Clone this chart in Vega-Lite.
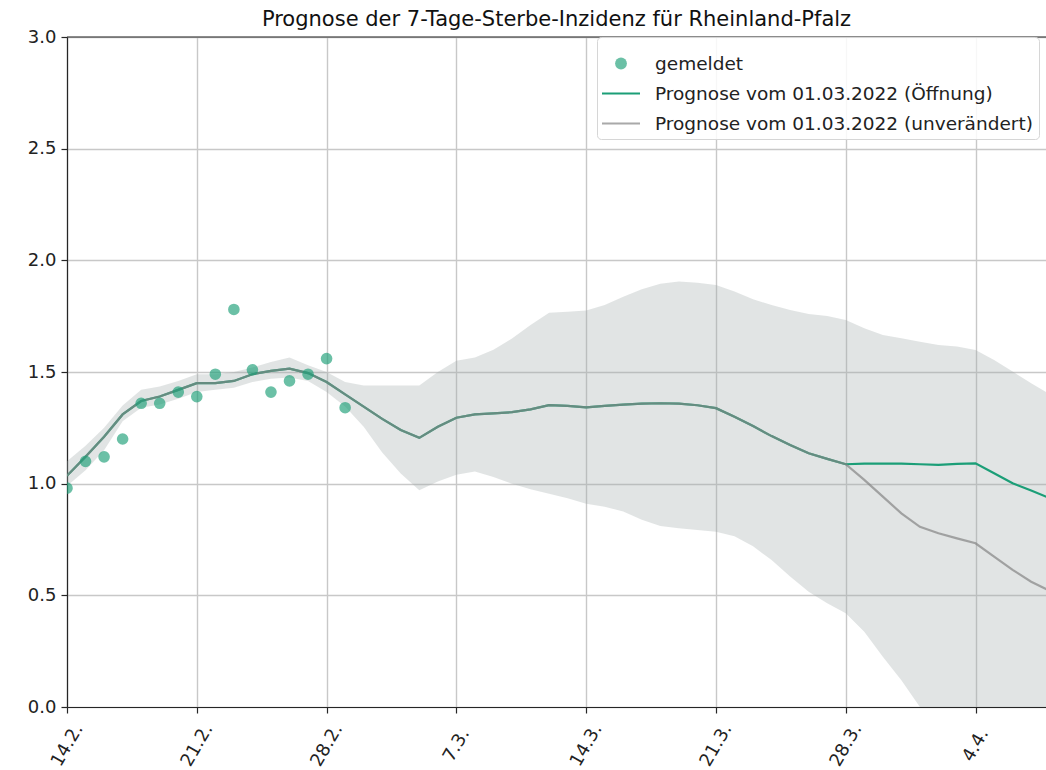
{
  "$schema": "https://vega.github.io/schema/vega-lite/v6.json",
  "width": 979,
  "height": 670,
  "autosize": {"type": "none"},
  "padding": {"left": 67, "top": 37, "right": 0, "bottom": 63},
  "background": "white",
  "config": {
    "font": "DejaVu Sans",
    "view": {"stroke": null},
    "axis": {
      "labelFont": "DejaVu Sans",
      "labelFontSize": 18,
      "labelColor": "#222222",
      "domainColor": "#262626",
      "domainWidth": 1.2,
      "tickColor": "#262626",
      "tickWidth": 1.2,
      "tickSize": 6,
      "gridColor": "#c8c8c8",
      "gridWidth": 1.4,
      "title": null
    }
  },
  "title": {
    "text": "Prognose der 7-Tage-Sterbe-Inzidenz für Rheinland-Pfalz",
    "font": "DejaVu Sans",
    "fontSize": 21,
    "fontWeight": "normal",
    "color": "#111111",
    "anchor": "middle",
    "frame": "group",
    "offset": -2
  },
  "data": {
    "values": [
      {"date": "2022-02-14T00:00:00", "obs": 0.98, "lo": 0.99, "hi": 1.10, "open": 1.035, "unch": 1.035},
      {"date": "2022-02-15T00:00:00", "obs": 1.10, "lo": 1.06, "hi": 1.17, "open": 1.12, "unch": 1.12},
      {"date": "2022-02-16T00:00:00", "obs": 1.12, "lo": 1.15, "hi": 1.25, "open": 1.21, "unch": 1.21},
      {"date": "2022-02-17T00:00:00", "obs": 1.20, "lo": 1.28, "hi": 1.35, "open": 1.31, "unch": 1.31},
      {"date": "2022-02-18T00:00:00", "obs": 1.36, "lo": 1.34, "hi": 1.42, "open": 1.37, "unch": 1.37},
      {"date": "2022-02-19T00:00:00", "obs": 1.36, "lo": 1.355, "hi": 1.435, "open": 1.39, "unch": 1.39},
      {"date": "2022-02-20T00:00:00", "obs": 1.41, "lo": 1.38, "hi": 1.46, "open": 1.42, "unch": 1.42},
      {"date": "2022-02-21T00:00:00", "obs": 1.39, "lo": 1.41, "hi": 1.49, "open": 1.45, "unch": 1.45},
      {"date": "2022-02-22T00:00:00", "obs": 1.49, "lo": 1.42, "hi": 1.49, "open": 1.45, "unch": 1.45},
      {"date": "2022-02-23T00:00:00", "obs": 1.78, "lo": 1.43, "hi": 1.50, "open": 1.46, "unch": 1.46},
      {"date": "2022-02-24T00:00:00", "obs": 1.51, "lo": 1.455, "hi": 1.52, "open": 1.49, "unch": 1.49},
      {"date": "2022-02-25T00:00:00", "obs": 1.41, "lo": 1.47, "hi": 1.545, "open": 1.505, "unch": 1.505},
      {"date": "2022-02-26T00:00:00", "obs": 1.46, "lo": 1.475, "hi": 1.565, "open": 1.515, "unch": 1.515},
      {"date": "2022-02-27T00:00:00", "obs": 1.49, "lo": 1.46, "hi": 1.53, "open": 1.495, "unch": 1.495},
      {"date": "2022-02-28T00:00:00", "obs": 1.56, "lo": 1.41, "hi": 1.50, "open": 1.455, "unch": 1.455},
      {"date": "2022-03-01T00:00:00", "obs": 1.34, "lo": 1.345, "hi": 1.455, "open": 1.40, "unch": 1.40},
      {"date": "2022-03-02T00:00:00", "obs": null, "lo": 1.255, "hi": 1.44, "open": 1.345, "unch": 1.345},
      {"date": "2022-03-03T00:00:00", "obs": null, "lo": 1.14, "hi": 1.44, "open": 1.29, "unch": 1.29},
      {"date": "2022-03-04T00:00:00", "obs": null, "lo": 1.045, "hi": 1.44, "open": 1.24, "unch": 1.24},
      {"date": "2022-03-05T00:00:00", "obs": null, "lo": 0.97, "hi": 1.44, "open": 1.205, "unch": 1.205},
      {"date": "2022-03-06T00:00:00", "obs": null, "lo": 1.01, "hi": 1.50, "open": 1.255, "unch": 1.255},
      {"date": "2022-03-07T00:00:00", "obs": null, "lo": 1.04, "hi": 1.55, "open": 1.295, "unch": 1.295},
      {"date": "2022-03-08T00:00:00", "obs": null, "lo": 1.055, "hi": 1.565, "open": 1.31, "unch": 1.31},
      {"date": "2022-03-09T00:00:00", "obs": null, "lo": 1.03, "hi": 1.60, "open": 1.315, "unch": 1.315},
      {"date": "2022-03-10T00:00:00", "obs": null, "lo": 1.00, "hi": 1.65, "open": 1.32, "unch": 1.32},
      {"date": "2022-03-11T00:00:00", "obs": null, "lo": 0.975, "hi": 1.71, "open": 1.333, "unch": 1.333},
      {"date": "2022-03-12T00:00:00", "obs": null, "lo": 0.955, "hi": 1.765, "open": 1.352, "unch": 1.352},
      {"date": "2022-03-13T00:00:00", "obs": null, "lo": 0.935, "hi": 1.77, "open": 1.348, "unch": 1.348},
      {"date": "2022-03-14T00:00:00", "obs": null, "lo": 0.91, "hi": 1.775, "open": 1.342, "unch": 1.342},
      {"date": "2022-03-15T00:00:00", "obs": null, "lo": 0.897, "hi": 1.80, "open": 1.348, "unch": 1.348},
      {"date": "2022-03-16T00:00:00", "obs": null, "lo": 0.875, "hi": 1.837, "open": 1.354, "unch": 1.354},
      {"date": "2022-03-17T00:00:00", "obs": null, "lo": 0.838, "hi": 1.87, "open": 1.358, "unch": 1.358},
      {"date": "2022-03-18T00:00:00", "obs": null, "lo": 0.81, "hi": 1.895, "open": 1.36, "unch": 1.36},
      {"date": "2022-03-19T00:00:00", "obs": null, "lo": 0.80, "hi": 1.905, "open": 1.358, "unch": 1.358},
      {"date": "2022-03-20T00:00:00", "obs": null, "lo": 0.793, "hi": 1.90, "open": 1.351, "unch": 1.351},
      {"date": "2022-03-21T00:00:00", "obs": null, "lo": 0.785, "hi": 1.89, "open": 1.338, "unch": 1.338},
      {"date": "2022-03-22T00:00:00", "obs": null, "lo": 0.765, "hi": 1.86, "open": 1.30, "unch": 1.30},
      {"date": "2022-03-23T00:00:00", "obs": null, "lo": 0.72, "hi": 1.826, "open": 1.258, "unch": 1.258},
      {"date": "2022-03-24T00:00:00", "obs": null, "lo": 0.658, "hi": 1.80, "open": 1.213, "unch": 1.213},
      {"date": "2022-03-25T00:00:00", "obs": null, "lo": 0.584, "hi": 1.778, "open": 1.173, "unch": 1.173},
      {"date": "2022-03-26T00:00:00", "obs": null, "lo": 0.516, "hi": 1.76, "open": 1.136, "unch": 1.136},
      {"date": "2022-03-27T00:00:00", "obs": null, "lo": 0.464, "hi": 1.751, "open": 1.111, "unch": 1.111},
      {"date": "2022-03-28T00:00:00", "obs": null, "lo": 0.42, "hi": 1.733, "open": 1.087, "unch": 1.087},
      {"date": "2022-03-29T00:00:00", "obs": null, "lo": 0.337, "hi": 1.696, "open": 1.09, "unch": 1.017},
      {"date": "2022-03-30T00:00:00", "obs": null, "lo": 0.225, "hi": 1.666, "open": 1.09, "unch": 0.942},
      {"date": "2022-03-31T00:00:00", "obs": null, "lo": 0.12, "hi": 1.651, "open": 1.09, "unch": 0.867},
      {"date": "2022-04-01T00:00:00", "obs": null, "lo": 0.0, "hi": 1.636, "open": 1.087, "unch": 0.807},
      {"date": "2022-04-02T00:00:00", "obs": null, "lo": 0.0, "hi": 1.621, "open": 1.084, "unch": 0.778},
      {"date": "2022-04-03T00:00:00", "obs": null, "lo": 0.0, "hi": 1.614, "open": 1.089, "unch": 0.755},
      {"date": "2022-04-04T00:00:00", "obs": null, "lo": 0.0, "hi": 1.599, "open": 1.091, "unch": 0.733},
      {"date": "2022-04-05T00:00:00", "obs": null, "lo": 0.0, "hi": 1.554, "open": 1.047, "unch": 0.673},
      {"date": "2022-04-06T00:00:00", "obs": null, "lo": 0.0, "hi": 1.502, "open": 1.002, "unch": 0.614},
      {"date": "2022-04-07T00:00:00", "obs": null, "lo": 0.0, "hi": 1.45, "open": 0.969, "unch": 0.561},
      {"date": "2022-04-08T00:00:00", "obs": null, "lo": 0.0, "hi": 1.40, "open": 0.935, "unch": 0.52}
    ]
  },
  "layer": [
    {
      "mark": {"type": "area", "fill": "#a3abab", "fillOpacity": 0.32, "clip": true},
      "encoding": {
        "x": {
          "field": "date",
          "type": "temporal",
          "scale": {
            "domain": [
              {"year": 2022, "month": 2, "date": 14},
              {"year": 2022, "month": 4, "date": 7, "hours": 19, "minutes": 12}
            ]
          },
          "axis": {
            "values": [
              {"year": 2022, "month": 2, "date": 14},
              {"year": 2022, "month": 2, "date": 21},
              {"year": 2022, "month": 2, "date": 28},
              {"year": 2022, "month": 3, "date": 7},
              {"year": 2022, "month": 3, "date": 14},
              {"year": 2022, "month": 3, "date": 21},
              {"year": 2022, "month": 3, "date": 28},
              {"year": 2022, "month": 4, "date": 4}
            ],
            "format": "%-d.%-m.",
            "labelAngle": -60,
            "labelAlign": "center",
            "labelBaseline": "middle",
            "labelPadding": 32,
            "grid": true,
            "labelOverlap": false
          }
        },
        "y": {"field": "lo", "type": "quantitative", "scale": {"domain": [0, 3], "nice": false, "zero": false},
          "axis": {"values": [0, 0.5, 1, 1.5, 2, 2.5, 3], "format": ".1f", "labelPadding": 5, "grid": true}},
        "y2": {"field": "hi"}
      }
    },
    {
      "mark": {"type": "line", "strokeWidth": 2.2, "clip": true},
      "encoding": {
        "x": {"field": "date", "type": "temporal"},
        "y": {"field": "open", "type": "quantitative"},
        "color": {
          "datum": "Prognose vom 01.03.2022 (Öffnung)",
          "scale": {
            "domain": ["gemeldet", "Prognose vom 01.03.2022 (Öffnung)", "Prognose vom 01.03.2022 (unverändert)"],
            "range": ["#1b9e77", "#1b9e77", "#858585"]
          },
          "legend": {
            "title": null,
            "orient": "none",
            "legendX": 530,
            "legendY": 0,
            "padding": 6,
            "fillColor": "rgba(255,255,255,0.85)",
            "strokeColor": "#d6d6d6",
            "cornerRadius": 4,
            "labelFont": "DejaVu Sans",
            "labelFontSize": 18.5,
            "labelColor": "#222222",
            "labelLimit": 0,
            "labelOffset": 11,
            "rowPadding": -2,
            "symbolSize": 400,
            "symbolStrokeWidth": 2,
            "encode": {
              "symbols": {
                "update": {
                  "x": {"value": 18},
                  "shape": {"signal": "datum.value === 'gemeldet' ? 'circle' : 'stroke'"},
                  "size": {"signal": "datum.value === 'gemeldet' ? 140 : 1444"},
                  "fill": {"signal": "datum.value === 'gemeldet' ? '#1b9e77' : 'transparent'"},
                  "fillOpacity": {"value": 0.65},
                  "opacity": {"value": 1},
                  "stroke": {"signal": "indexof(datum.value, 'unver') >= 0 ? '#858585' : '#1b9e77'"},
                  "strokeOpacity": {"signal": "datum.value === 'gemeldet' ? 0 : (indexof(datum.value, 'unver') >= 0 ? 0.7 : 1)"},
                  "strokeWidth": {"value": 2.2}
                }
              }
            }
          }
        }
      }
    },
    {
      "mark": {"type": "line", "strokeWidth": 2.2, "strokeOpacity": 0.7, "clip": true},
      "encoding": {
        "x": {"field": "date", "type": "temporal"},
        "y": {"field": "unch", "type": "quantitative"},
        "color": {
          "datum": "Prognose vom 01.03.2022 (unverändert)",
          "legend": {
            "title": null,
            "orient": "none",
            "legendX": 530,
            "legendY": 0,
            "padding": 6,
            "fillColor": "rgba(255,255,255,0.85)",
            "strokeColor": "#d6d6d6",
            "cornerRadius": 4,
            "labelFont": "DejaVu Sans",
            "labelFontSize": 18.5,
            "labelColor": "#222222",
            "labelLimit": 0,
            "labelOffset": 11,
            "rowPadding": -2,
            "symbolSize": 400,
            "symbolStrokeWidth": 2,
            "encode": {
              "symbols": {
                "update": {
                  "x": {"value": 18},
                  "shape": {"signal": "datum.value === 'gemeldet' ? 'circle' : 'stroke'"},
                  "size": {"signal": "datum.value === 'gemeldet' ? 140 : 1444"},
                  "fill": {"signal": "datum.value === 'gemeldet' ? '#1b9e77' : 'transparent'"},
                  "fillOpacity": {"value": 0.65},
                  "opacity": {"value": 1},
                  "stroke": {"signal": "indexof(datum.value, 'unver') >= 0 ? '#858585' : '#1b9e77'"},
                  "strokeOpacity": {"signal": "datum.value === 'gemeldet' ? 0 : (indexof(datum.value, 'unver') >= 0 ? 0.7 : 1)"},
                  "strokeWidth": {"value": 2.2}
                }
              }
            }
          }
        }
      }
    },
    {
      "transform": [{"filter": "datum.obs != null"}],
      "mark": {"type": "circle", "size": 135, "opacity": 0.65, "clip": true},
      "encoding": {
        "x": {"field": "date", "type": "temporal"},
        "y": {"field": "obs", "type": "quantitative"},
        "color": {
          "datum": "gemeldet",
          "legend": {
            "title": null,
            "orient": "none",
            "legendX": 530,
            "legendY": 0,
            "padding": 6,
            "fillColor": "rgba(255,255,255,0.85)",
            "strokeColor": "#d6d6d6",
            "cornerRadius": 4,
            "labelFont": "DejaVu Sans",
            "labelFontSize": 18.5,
            "labelColor": "#222222",
            "labelLimit": 0,
            "labelOffset": 11,
            "rowPadding": -2,
            "symbolSize": 400,
            "symbolStrokeWidth": 2,
            "encode": {
              "symbols": {
                "update": {
                  "x": {"value": 18},
                  "shape": {"signal": "datum.value === 'gemeldet' ? 'circle' : 'stroke'"},
                  "size": {"signal": "datum.value === 'gemeldet' ? 140 : 1444"},
                  "fill": {"signal": "datum.value === 'gemeldet' ? '#1b9e77' : 'transparent'"},
                  "fillOpacity": {"value": 0.65},
                  "opacity": {"value": 1},
                  "stroke": {"signal": "indexof(datum.value, 'unver') >= 0 ? '#858585' : '#1b9e77'"},
                  "strokeOpacity": {"signal": "datum.value === 'gemeldet' ? 0 : (indexof(datum.value, 'unver') >= 0 ? 0.7 : 1)"},
                  "strokeWidth": {"value": 2.2}
                }
              }
            }
          }
        }
      }
    },
    {
      "data": {"values": [{"top": 3}]},
      "mark": {"type": "rule", "color": "#262626", "strokeWidth": 1.2},
      "encoding": {"y": {"field": "top", "type": "quantitative"}}
    }
  ]
}
